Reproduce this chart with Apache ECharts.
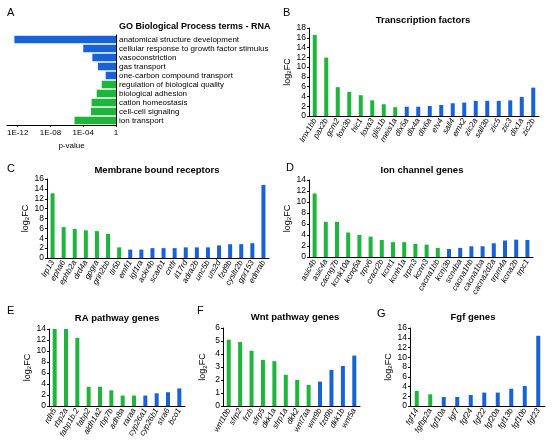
<!DOCTYPE html>
<html>
<head>
<meta charset="utf-8">
<script src="https://cdn.jsdelivr.net/npm/echarts@6/dist/echarts.min.js"></script>
<style>
  html, body { margin: 0; padding: 0; background: #fff; }
  #chart { width: 554px; height: 446px; }
</style>
</head>
<body>
<div id="chart"></div>
<script>
// A: GO terms (first five blue, rest green)
const goTerms = [
  "anatomical structure development", "cellular response to growth factor stimulus",
  "vasoconstriction", "gas transport", "one-carbon compound transport",
  "regulation of biological quality", "biological adhesion", "cation homeostasis",
  "cell-cell signaling", "ion transport"
];
const goPValues = [4e-13, 1e-4, 1.3e-3, 6.3e-3, 5.5e-2, 1.8e-2, 4.4e-3, 1.05e-3, 8.7e-4, 8.7e-6];
const goBlueCount = 5;
const goTicks = [1e-12, 1e-8, 1e-4, 1];

// B..G: log2FC, first nGreen bars green, rest blue
const tfNames = ["lmx1bb", "pax2b", "gcm2", "foxi3b", "hic1", "foxa3", "glis1b", "meis1a",
  "dlx5a", "dlx4a", "dlx6a", "etv4", "sall4", "emx2", "zic2a", "sall3b", "zic5", "zic3", "dlx1a", "zic2b"];
const tfValues = [16.6, 11.95, 5.9, 4.95, 4.25, 3.2, 2.4, 1.8, 1.9, 1.9, 2.05, 2.25, 2.6, 2.75, 3.1, 3.1, 3.1, 3.2, 3.9, 5.8];
const tfGreen = 8;

const mbrNames = ["lrp13", "epha6", "ephb2a", "drd4a", "gpgra", "grin2bb", "tlr5b", "emfi1", "igf1ra",
  "ackr4b", "scarb1", "cntfr", "il17rd", "adra2b", "unc5b", "uts2d", "fzd9b", "cysltr2b", "gpr153", "ednrab"];
const mbrValues = [13.1, 6.25, 5.9, 5.6, 5.45, 4.9, 2.15, 1.7, 1.7, 2.0, 2.0, 2.0, 2.15, 2.15, 2.15, 2.55, 2.8, 2.8, 3.0, 14.8];
const mbrGreen = 7;

const ionNames = ["asic4b", "asic4a", "cacng7b", "kcnk10a", "kcnq5a", "trpv6", "cracr2b", "kcnt1", "kcnh1a",
  "trpm3", "kcnn3", "cacna1bb", "kcnj3b", "scn4ba", "cacna1hb", "cacna1ba", "cacna2d2a", "trpm4a", "kcna2b", "trpc1"];
const ionValues = [11.55, 6.4, 6.4, 4.45, 4.0, 3.7, 3.1, 2.7, 2.7, 2.4, 2.25, 1.65, 1.45, 1.65, 1.95, 1.95, 2.5, 3.0, 3.15, 3.1];
const ionGreen = 12;

const raNames = ["rdh5", "rbp2a", "fabp1b.2", "fabp2", "aldh1a2", "rbp7b", "adh8a", "raraa", "cyp26a1", "cyp26b1", "stra6", "bco1"];
const raValues = [14.7, 14.05, 12.4, 3.5, 3.5, 2.85, 1.9, 1.9, 1.9, 2.3, 2.5, 3.2];
const raGreen = 8;

const wntNames = ["wnt10b", "sfrp2", "frzb", "sfrp5", "dkk1a", "sfrp1a", "dkk2", "wnt7aa", "wnt9b", "fzd9b", "dkk1b", "wnt5a"];
const wntValues = [5.1, 4.92, 4.25, 3.55, 3.45, 2.4, 2.0, 1.62, 1.88, 2.78, 3.08, 3.88];
const wntGreen = 8;

const fgfNames = ["fgf14", "fgfbp2a", "fgf10a", "fgf7", "fgf24", "fgf22", "fgf20a", "fgf13b", "fgf10b", "fgf23"];
const fgfValues = [3.1, 2.4, 1.85, 1.85, 2.25, 2.75, 2.75, 3.55, 4.1, 14.4];
const fgfGreen = 2;

const GREEN = "#1db53c";
const BLUE = "#1662d6";
const FONT = "Liberation Sans, Arial, sans-serif";

// panel layout: grid rect, axis max/interval, title placement
const panels = [
  { names: tfNames, values: tfValues, nGreen: tfGreen, rect: [309, 28, 230, 88], max: 18, interval: 2,
    title: "Transcription factors", tx: 423, ty: 20, letter: "B", lx: 287, ly: 13 },
  { names: mbrNames, values: mbrValues, nGreen: mbrGreen, rect: [47, 179, 222, 79], max: 16, interval: 2,
    title: "Membrane bound receptors", tx: 157, ty: 170, letter: "C", lx: 11, ly: 169 },
  { names: ionNames, values: ionValues, nGreen: ionGreen, rect: [309, 180, 224, 77], max: 14, interval: 2,
    title: "Ion channel genes", tx: 422, ty: 170, letter: "D", lx: 290, ly: 168 },
  { names: raNames, values: raValues, nGreen: raGreen, rect: [49, 329, 136, 77], max: 14, interval: 2,
    title: "RA pathway genes", tx: 117, ty: 318, letter: "E", lx: 11, ly: 311 },
  { names: wntNames, values: wntValues, nGreen: wntGreen, rect: [223, 328, 137, 78], max: 6, interval: 1,
    title: "Wnt pathway genes", tx: 295, ty: 317, letter: "F", lx: 201, ly: 311 },
  { names: fgfNames, values: fgfValues, nGreen: fgfGreen, rect: [410, 328, 135, 78], max: 16, interval: 2,
    title: "Fgf genes", tx: 473, ty: 317, letter: "G", lx: 381, ly: 314 },
];

const axisLine = { show: true, lineStyle: { color: "#000", width: 1 } };

const grids = [{ left: 7, top: 35, width: 109, height: 90 }];
const xAxes = [{
  type: "log", gridIndex: 0, min: Math.pow(10, -13.3), max: 1,
  axisLine: axisLine,
  axisTick: { show: true, length: 2, customValues: goTicks, lineStyle: { color: "#000" } },
  axisLabel: {
    customValues: goTicks, fontSize: 8, color: "#000", fontFamily: FONT, margin: 4,
    formatter: (v) => {
      const e = Math.round(Math.log10(v));
      if (e === 0) return "1";
      const a = Math.abs(e);
      return "1E-" + (a < 10 ? "0" + a : a);
    }
  },
  splitLine: { show: false },
  name: "p-value", nameLocation: "middle", nameGap: 17,
  nameTextStyle: { fontSize: 8, color: "#000", fontFamily: FONT, padding: [0, 0, 0, 20] }
}];
const yAxes = [{
  type: "category", gridIndex: 0, data: goTerms, inverse: true, position: "right",
  axisLine: axisLine, axisTick: { show: false },
  axisLabel: { interval: 0, fontSize: 8, color: "#000", fontFamily: FONT, margin: 3 }
}];
const series = [{
  type: "bar", xAxisIndex: 0, yAxisIndex: 0, barCategoryGap: "16%",
  data: goPValues.map((v, i) => ({ value: v, itemStyle: { color: i < goBlueCount ? BLUE : GREEN } }))
}];

const graphics = [
  { type: "text", x: 7, y: 13, style: { text: "A", fontSize: 11, fontFamily: FONT, fill: "#000", verticalAlign: "middle" } },
  { type: "text", x: 119, y: 27, style: { text: "GO Biological Process terms - RNA", fontSize: 9, fontWeight: "bold",
    fontFamily: FONT, fill: "#000", verticalAlign: "middle" } },
];

panels.forEach((p, k) => {
  const gi = k + 1;
  grids.push({ left: p.rect[0], top: p.rect[1], width: p.rect[2], height: p.rect[3] });
  xAxes.push({
    type: "category", gridIndex: gi, data: p.names,
    axisLine: axisLine, axisTick: { show: false },
    axisLabel: { interval: 0, rotate: 60, fontSize: 8, fontStyle: "italic", color: "#000", fontFamily: FONT, margin: 3 }
  });
  yAxes.push({
    type: "value", gridIndex: gi, min: 0, max: p.max, interval: p.interval,
    axisLine: axisLine,
    axisTick: { show: true, length: 2, lineStyle: { color: "#000" } },
    axisLabel: { fontSize: 8.5, color: "#000", fontFamily: FONT, margin: 3 },
    splitLine: { show: false },
    name: "log{s|2}FC", nameLocation: "middle", nameGap: 15, nameRotate: 90,
    nameTextStyle: { fontSize: 9, color: "#000", fontFamily: FONT,
      rich: { s: { fontSize: 6, color: "#000", fontFamily: FONT, verticalAlign: "bottom", padding: [4, 0, 0, 0] } } }
  });
  series.push({
    type: "bar", xAxisIndex: gi, yAxisIndex: gi, barWidth: 4,
    data: p.values.map((v, i) => ({ value: v, itemStyle: { color: i < p.nGreen ? GREEN : BLUE } }))
  });
  graphics.push({ type: "text", x: p.tx, y: p.ty, style: { text: p.title, fontSize: 9.5, fontWeight: "bold",
    fontFamily: FONT, fill: "#000", align: "center", verticalAlign: "middle" } });
  graphics.push({ type: "text", x: p.lx - 4, y: p.ly, style: { text: p.letter, fontSize: 11,
    fontFamily: FONT, fill: "#000", verticalAlign: "middle" } });
});

const chart = echarts.init(document.getElementById("chart"), null, { renderer: "canvas" });
chart.setOption({
  backgroundColor: "#fff",
  animation: false,
  grid: grids,
  xAxis: xAxes,
  yAxis: yAxes,
  series: series,
  graphic: graphics
});
</script>
</body>
</html>
